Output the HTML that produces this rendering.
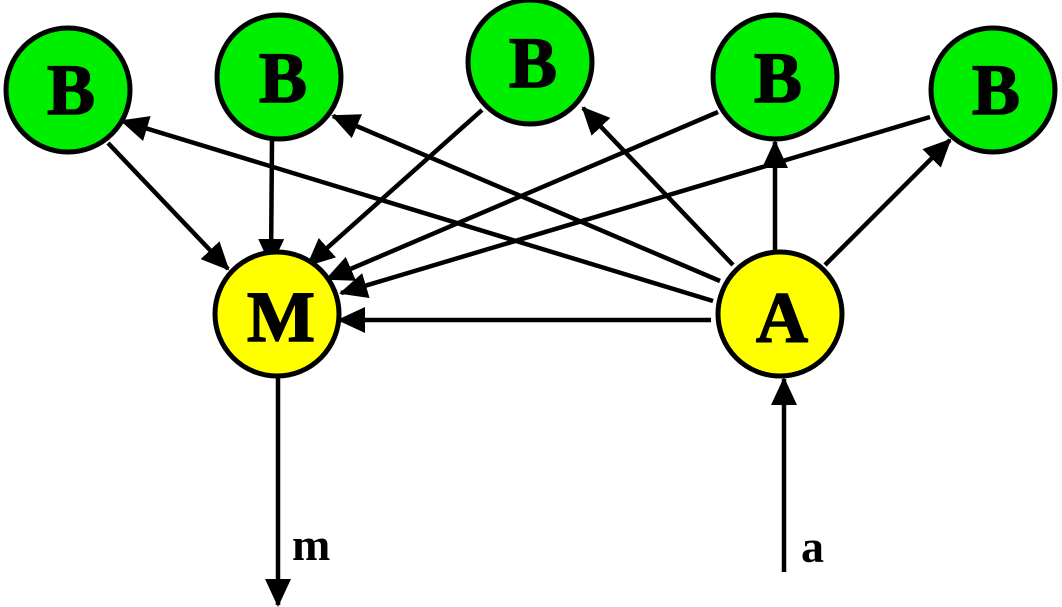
<!DOCTYPE html>
<html><head><meta charset="utf-8"><style>
html,body{margin:0;padding:0;background:#fff;}
svg{display:block;}
text{font-family:"Liberation Serif",serif;font-weight:bold;fill:#000;}
</style></head><body>
<svg width="1062" height="607" viewBox="0 0 1062 607" xmlns="http://www.w3.org/2000/svg">
<defs>
<marker id="ah" markerWidth="28" markerHeight="26" refX="26" refY="13" orient="auto" markerUnits="userSpaceOnUse">
<path d="M0,0 L28,13 L0,26 Z" fill="#000"/>
</marker>
</defs>
<g stroke="#000" stroke-width="4.5" fill="none" marker-end="url(#ah)">
<line x1="108" y1="143" x2="228" y2="269"/>
<line x1="272" y1="140" x2="271" y2="265"/>
<line x1="482" y1="110" x2="308" y2="265"/>
<line x1="718" y1="112" x2="327" y2="279"/>
<line x1="930" y1="117" x2="341" y2="293"/>
<line x1="711" y1="320" x2="339" y2="320"/>
<line x1="713" y1="301" x2="122" y2="121"/>
<line x1="720" y1="281" x2="333" y2="116"/>
<line x1="733" y1="265" x2="583" y2="108"/>
<line x1="775" y1="250" x2="775" y2="142"/>
<line x1="825" y1="265" x2="950" y2="140"/>
<line x1="278" y1="378" x2="278" y2="605"/>
<line x1="784" y1="572" x2="784" y2="379"/>
</g>
<g stroke="#000" stroke-width="5">
<circle cx="68" cy="90" r="62" fill="#00ee00"/>
<circle cx="279" cy="77" r="62" fill="#00ee00"/>
<circle cx="530" cy="62" r="62" fill="#00ee00"/>
<circle cx="775" cy="77" r="62" fill="#00ee00"/>
<circle cx="993" cy="90" r="62" fill="#00ee00"/>
<circle cx="277" cy="314" r="62" fill="#ffff00"/>
<circle cx="780" cy="314" r="62" fill="#ffff00"/>
</g>
<g font-size="72" text-anchor="middle" stroke="#000" stroke-width="1.5">
<text x="71" y="114">B</text>
<text x="283" y="102">B</text>
<text x="533" y="87">B</text>
<text x="778" y="102">B</text>
<text x="996" y="114">B</text>
<text x="281" y="341">M</text>
<text x="782" y="342">A</text>
</g>
<g font-size="46">
<text x="292" y="560">m</text>
<text x="801" y="562">a</text>
</g>
</svg>
</body></html>
